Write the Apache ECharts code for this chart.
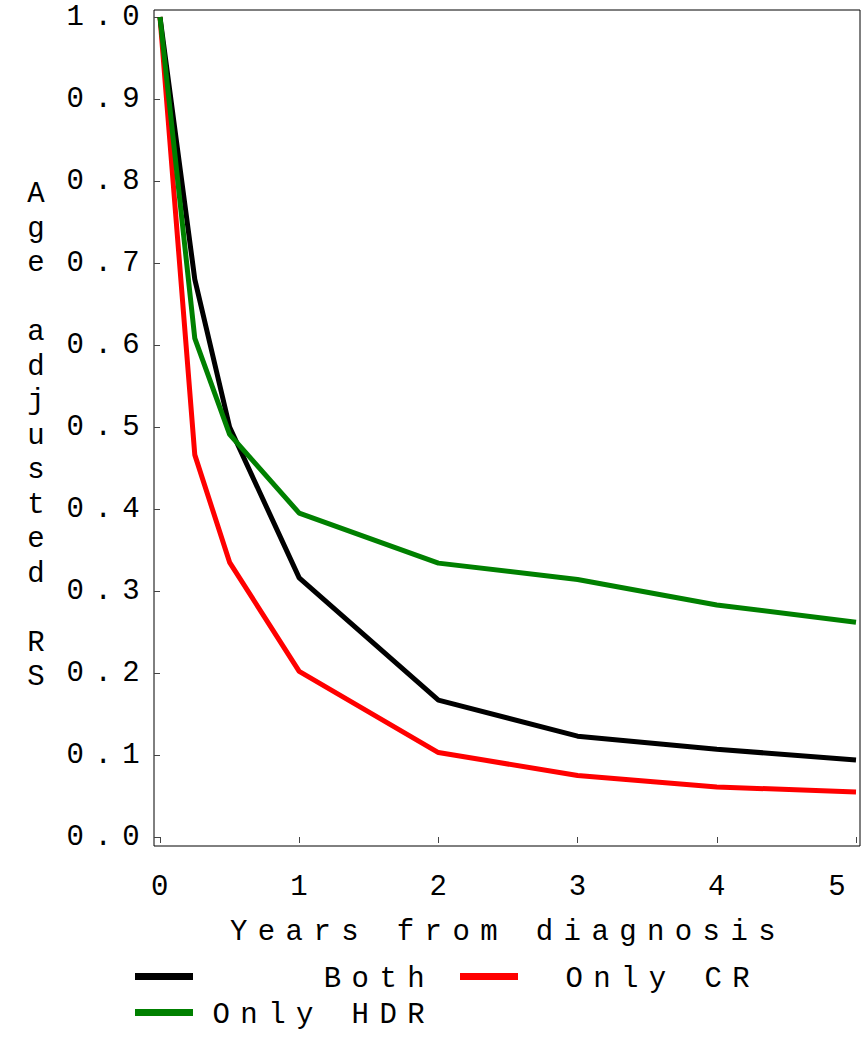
<!DOCTYPE html>
<html>
<head>
<meta charset="utf-8">
<script src="https://cdn.jsdelivr.net/npm/echarts@6/dist/echarts.min.js"></script>
<style>
  html, body { margin: 0; padding: 0; background: #fff; }
  #chart { width: 867px; height: 1037px; }
  /* wide, typewriter-like spacing for every label */
  #chart text { letter-spacing: 10.4px; }
</style>
</head>
<body>
<div id="chart"></div>
<script>
// Years after diagnosis at which the relative survival was evaluated
const years = [0, 0.25, 0.5, 1, 2, 3, 4, 5];

// Age adjusted relative survival per treatment group
const both    = [1.000, 0.680, 0.500, 0.316, 0.167, 0.123, 0.107, 0.094];
const onlyCR  = [1.000, 0.466, 0.335, 0.202, 0.103, 0.075, 0.061, 0.055];
const onlyHDR = [1.000, 0.608, 0.491, 0.395, 0.334, 0.314, 0.283, 0.262];

const seriesNames = ['Both', 'Only CR', 'Only HDR'];
const seriesColors = ['#000000', '#ff0000', '#008000'];

const yTickLabels = ['0.0', '0.1', '0.2', '0.3', '0.4', '0.5', '0.6', '0.7', '0.8', '0.9', '1.0'];
const xTickLabels = ['0', '1', '2', '3', '4', '5'];

const FONT = '"Liberation Mono", "DejaVu Sans Mono", monospace';
const FS = 29;

const pairs = (ys) => years.map((x, i) => [x, ys[i]]);

// vertical y-axis title, one character per line, with a short spacer line on top
const yTitle = '{gap| }\n' + 'Age adjusted RS'.split('').map((c) => (c === ' ' ? '' : c)).join('\n');

const chart = echarts.init(document.getElementById('chart'), null, { renderer: 'svg' });

const legendText = {
  formatter: (name) => '{t|' + name + '}',
  textStyle: {
    rich: {
      t: { width: 237, align: 'right', fontFamily: FONT, fontSize: FS, color: '#000', lineHeight: 30, padding: [6, 0, 0, 0] }
    }
  }
};

function legendAt(name, left, top) {
  return Object.assign({
    data: [name],
    left: left,
    top: top,
    orient: 'horizontal',
    icon: 'rect',
    itemWidth: 58,
    itemHeight: 7,
    padding: 0,
    selectedMode: false
  }, legendText);
}

chart.setOption({
  animation: false,
  backgroundColor: '#fff',
  grid: [
    // outer frame
    { left: 154, top: 10, width: 706, height: 836, show: true, borderColor: '#000', borderWidth: 1, backgroundColor: 'transparent' },
    // data area
    { left: 160, top: 17, width: 696, height: 820 }
  ],
  xAxis: [
    { gridIndex: 0, type: 'value', show: false, min: 0, max: 1 },
    {
      gridIndex: 1,
      type: 'value',
      min: 0,
      max: 5,
      interval: 1,
      offset: 9,
      axisLine: { show: false },
      axisTick: { show: true, length: 6, lineStyle: { color: '#444', width: 1 } },
      splitLine: { show: false },
      axisLabel: {
        margin: 27,
        fontFamily: FONT,
        fontSize: FS,
        padding: [0, 0, 0, 10],
        color: (v) => (v === 5 ? '#8a8a8a' : '#000'),
        formatter: (v) => xTickLabels[Math.round(v)],
        alignMaxLabel: 'right'
      },
      name: 'Years from diagnosis',
      nameLocation: 'middle',
      nameGap: 72,
      nameTextStyle: { fontFamily: FONT, fontSize: FS, color: '#000' }
    }
  ],
  yAxis: [
    { gridIndex: 0, type: 'value', show: false, min: 0, max: 1 },
    {
      gridIndex: 1,
      type: 'value',
      min: 0,
      max: 1,
      interval: 0.1,
      offset: 6,
      axisLine: { show: false },
      axisTick: { show: true, length: 6, lineStyle: { color: '#444', width: 1 } },
      splitLine: { show: false },
      axisLabel: {
        margin: 4,
        fontFamily: FONT,
        fontSize: FS,
        color: '#000',
        formatter: (v) => yTickLabels[Math.round(v * 10)]
      },
      name: yTitle,
      nameLocation: 'middle',
      nameRotate: 0,
      nameGap: 99,
      nameTextStyle: {
        fontFamily: FONT,
        fontSize: FS,
        color: '#000',
        lineHeight: 34.5,
        rich: { gap: { fontFamily: FONT, fontSize: 10, lineHeight: 18 } }
      }
    }
  ],
  legend: [
    legendAt('Both', 135, 959),
    legendAt('Only CR', 460, 959),
    legendAt('Only HDR', 135, 995)
  ],
  series: [
    { name: 'Only CR', type: 'line', xAxisIndex: 1, yAxisIndex: 1, data: pairs(onlyCR), showSymbol: false, color: seriesColors[1], lineStyle: { width: 5, color: seriesColors[1] } },
    { name: 'Both', type: 'line', xAxisIndex: 1, yAxisIndex: 1, data: pairs(both), showSymbol: false, color: seriesColors[0], lineStyle: { width: 5, color: seriesColors[0] } },
    { name: 'Only HDR', type: 'line', xAxisIndex: 1, yAxisIndex: 1, data: pairs(onlyHDR), showSymbol: false, color: seriesColors[2], lineStyle: { width: 5, color: seriesColors[2] } }
  ]
});
</script>
</body>
</html>
